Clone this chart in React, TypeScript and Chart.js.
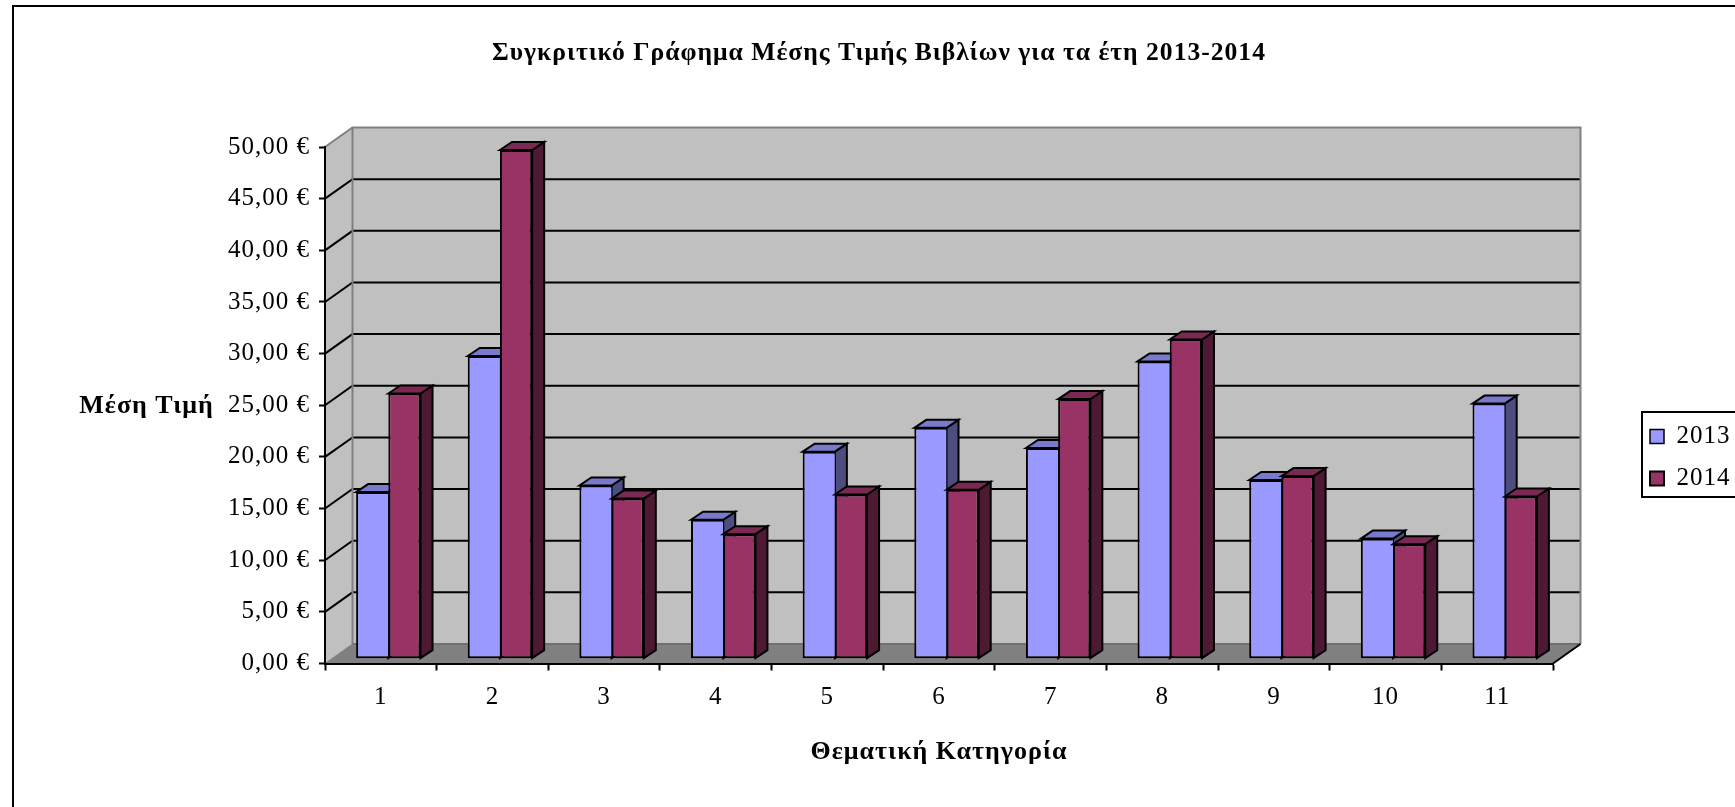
import React, { useEffect, useRef } from "react";
import { Chart, registerables } from "chart.js";

Chart.register(...registerables);

const categories = ["1", "2", "3", "4", "5", "6", "7", "8", "9", "10", "11"];
const values2013 = [16.13, 29.3, 16.77, 13.45, 20.04, 22.35, 20.4, 28.78, 17.3, 11.63, 24.7];
const values2014 = [25.67, 49.25, 15.5, 12.06, 15.9, 16.35, 25.13, 30.9, 17.68, 11.09, 15.7];
const yTickLabels = ["0,00 €", "5,00 €", "10,00 €", "15,00 €", "20,00 €", "25,00 €", "30,00 €", "35,00 €", "40,00 €", "45,00 €", "50,00 €"];

const FONT = "'Liberation Serif', serif";
const WALL_DX = 27.5;
const WALL_DY = 19.5;
const BAR_SHIFT_X = 7.5;
const BAR_SHIFT_Y = -4.8;
const BAR_DX = 12;
const BAR_DY = 8;
const SPACING = "1px";

const faces: Record<number, { top: string; side: string }> = {
  0: { top: "#7a7acc", side: "#4d4d80" },
  1: { top: "#7a2952", side: "#4d1933" },
};

function poly(ctx: CanvasRenderingContext2D, pts: number[][], fill: string | null, stroke: string | null, lw = 2) {
  ctx.beginPath();
  pts.forEach((p, i) => (i ? ctx.lineTo(p[0], p[1]) : ctx.moveTo(p[0], p[1])));
  if (fill) {
    ctx.closePath();
    ctx.fillStyle = fill;
    ctx.fill();
  }
  if (stroke) {
    ctx.strokeStyle = stroke;
    ctx.lineWidth = lw;
    ctx.stroke();
  }
}

const scene3d = {
  id: "scene3d",
  beforeDraw(chart: any) {
    const { ctx, chartArea: a, scales } = chart;
    const y = scales.y;
    const l = a.left, r = a.right, t = a.top, b = a.bottom;
    (ctx as any).letterSpacing = SPACING;

    ctx.save();
    // outer frame
    ctx.strokeStyle = "#000";
    ctx.lineWidth = 2;
    ctx.strokeRect(13, 6, 1800, 1000);

    // walls and floor
    poly(ctx, [[l + WALL_DX, t - WALL_DY], [r + WALL_DX, t - WALL_DY], [r + WALL_DX, b - WALL_DY], [l + WALL_DX, b - WALL_DY]], "#c0c0c0", null);
    poly(ctx, [[l, t], [l + WALL_DX, t - WALL_DY], [l + WALL_DX, b - WALL_DY], [l, b]], "#c0c0c0", null);
    poly(ctx, [[l, b], [l + WALL_DX, b - WALL_DY], [r + WALL_DX, b - WALL_DY], [r, b]], "#808080", null);

    // grid lines on side wall and back wall
    y.ticks.forEach((tick: any) => {
      const py = y.getPixelForValue(tick.value);
      if (tick.value === y.max || tick.value === y.min) return;
      poly(ctx, [[l, py], [l + WALL_DX, py - WALL_DY], [r + WALL_DX, py - WALL_DY]], null, "#000");
    });

    // grey edges
    poly(ctx, [[l, t], [l + WALL_DX, t - WALL_DY], [r + WALL_DX, t - WALL_DY], [r + WALL_DX, b - WALL_DY]], null, "#808080");
    poly(ctx, [[l + WALL_DX, t - WALL_DY], [l + WALL_DX, b - WALL_DY]], null, "#808080");
    poly(ctx, [[l, b], [l + WALL_DX, b - WALL_DY]], null, "#808080", 1);
    poly(ctx, [[l + WALL_DX, b - WALL_DY], [r + WALL_DX, b - WALL_DY]], null, "#707070");
    poly(ctx, [[r, b], [r + WALL_DX, b - WALL_DY]], null, "#000");

    // legend frame
    ctx.fillStyle = "#fff";
    ctx.fillRect(1642, 412, 110, 85);
    ctx.strokeStyle = "#000";
    ctx.lineWidth = 2;
    ctx.strokeRect(1642, 412, 110, 85);

    // horizontal value-axis title
    ctx.fillStyle = "#000";
    ctx.font = "bold 26px " + FONT;
    ctx.textAlign = "center";
    ctx.textBaseline = "middle";
    ctx.fillText("Μέση Τιμή", 146.5, 406);
    ctx.restore();

    const legend = chart.legend;
    const pad = legend.options.labels.padding;
    legend.left = 1650 - pad;
    legend.right = legend.left + 300;
    legend.top = 424 - pad;
    legend.bottom = legend.top + 300;
  },
  // 2014 has to be painted over the side faces of 2013, so the bars are drawn here in series order.
  beforeDatasetsDraw(chart: any) {
    const { ctx } = chart;
    chart.getSortedVisibleDatasetMetas().forEach((meta: any) => {
      ctx.save();
      ctx.translate(BAR_SHIFT_X, BAR_SHIFT_Y);
      const f = faces[meta.index];
      meta.data.forEach((el: any) => {
        const left = el.x - el.width / 2;
        const right = el.x + el.width / 2;
        poly(ctx, [[right, el.y], [right + BAR_DX, el.y - BAR_DY], [right + BAR_DX, el.base - BAR_DY], [right, el.base]], f.side, "#000");
        poly(ctx, [[left, el.y], [left + BAR_DX, el.y - BAR_DY], [right + BAR_DX, el.y - BAR_DY], [right, el.y]], f.top, "#000");
      });
      meta.controller.draw();
      ctx.restore();
    });
    return false;
  },
};

export default function App() {
  const ref = useRef<HTMLCanvasElement>(null);
  useEffect(() => {
    document.body.style.margin = "0";
    document.body.style.overflow = "hidden";
    const chart = new Chart(ref.current!, {
      type: "bar",
      plugins: [scene3d],
      data: {
        labels: categories,
        datasets: [
          {
            label: "2013",
            data: values2013,
            backgroundColor: "#9999ff",
            borderColor: "#000",
            borderWidth: { left: 2, top: 2, bottom: 2, right: 0 },
            borderSkipped: false,
          },
          {
            label: "2014",
            data: values2014,
            backgroundColor: "#993366",
            borderColor: "#000",
            borderWidth: 2,
            borderSkipped: false,
          },
        ],
      } as any,
      options: {
        responsive: false,
        animation: false,
        layout: { padding: { left: 205, right: 182, top: 0, bottom: 0 } },
        datasets: { bar: { barPercentage: 1, categoryPercentage: 0.577 } },
        plugins: {
          tooltip: { enabled: false },
          title: {
            display: true,
            text: "Συγκριτικό Γράφημα Μέσης Τιμής Βιβλίων για τα έτη 2013-2014",
            color: "#000",
            font: { family: FONT, size: 25.6, weight: "bold" },
            padding: { top: 37.6, bottom: 78.7 },
          },
          legend: {
            position: "chartArea",
            fullSize: false,
            align: "start",
            labels: {
              color: "#000",
              font: { family: FONT, size: 25 },
              boxWidth: 14,
              boxHeight: 14,
              padding: 17,
            },
          },
        },
        scales: {
          x: {
            grid: { drawOnChartArea: false, drawTicks: true, tickLength: 7, tickColor: "#000", tickWidth: 2 },
            border: { display: true, color: "#000", width: 2 },
            ticks: { color: "#000", font: { family: FONT, size: 25 }, padding: 11.5, maxRotation: 0 },
            title: {
              display: true,
              text: "Θεματική Κατηγορία",
              color: "#000",
              font: { family: FONT, size: 26, weight: "bold" },
              padding: { top: 0, bottom: 39.4 },
            },
            afterFit(s: any) {
              s.height = 143.5;
            },
          },
          y: {
            min: 0,
            max: 50,
            grid: { drawOnChartArea: false, drawTicks: true, tickLength: 6, tickColor: "#000", tickWidth: 2 },
            border: { display: true, color: "#000", width: 2 },
            ticks: {
              stepSize: 5,
              color: "#000",
              font: { family: FONT, size: 25 },
              padding: 9,
              callback: (_v: any, i: number) => yTickLabels[i],
            },
            afterFit(s: any) {
              s.width = 120;
            },
          },
        },
      } as any,
    });
    return () => chart.destroy();
  }, []);
  return (
    <div style={{ position: "fixed", left: 0, top: 0, width: 1735, height: 807 }}>
      <canvas ref={ref} width={1735} height={807} style={{ display: "block" }} />
    </div>
  );
}
